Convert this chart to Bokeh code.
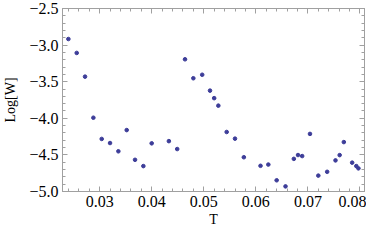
from bokeh.plotting import figure
from bokeh.models import (Range1d, LinearAxis, SingleIntervalTicker,
                          CustomJSTickFormatter, ColumnDataSource)
from bokeh.embed import file_html
from bokeh.resources import INLINE

# Data
T = [0.0240, 0.0256, 0.0272, 0.0288, 0.0304, 0.0320, 0.0336, 0.0352, 0.0368,
     0.0384, 0.0400, 0.0433, 0.0449, 0.0464, 0.0480, 0.0497, 0.0512, 0.0520,
     0.0528, 0.0544, 0.0560, 0.0577, 0.0609, 0.0624, 0.0640, 0.0657, 0.0673,
     0.0681, 0.0689, 0.0704, 0.0720, 0.0737, 0.0753, 0.0761, 0.0769, 0.0785,
     0.0793, 0.0797]
logW = [-2.917, -3.107, -3.431, -3.992, -4.282, -4.338, -4.451, -4.161, -4.567,
        -4.653, -4.342, -4.312, -4.420, -3.194, -3.453, -3.405, -3.622, -3.725,
        -3.827, -4.187, -4.278, -4.532, -4.649, -4.632, -4.847, -4.930, -4.554,
        -4.502, -4.516, -4.213, -4.783, -4.731, -4.575, -4.503, -4.325, -4.606,
        -4.653, -4.684]

x_label = "T"
y_label = "Log[W]"
x_range = (0.02287, 0.08087)
y_range = (-5.0, -2.5)
x_major = 0.01
y_major = 0.5

FONT = "Liberation Serif"
TICK_FS = "16px"
LABEL_FS = "14px"
FRAME = "#a0a0a0"
DOT = "#3d3d99"

src = ColumnDataSource(dict(T=T, logW=logW))

p = figure(width=366, height=229, output_backend="svg", toolbar_location=None,
           x_range=Range1d(*x_range), y_range=Range1d(*y_range),
           x_axis_location=None, y_axis_location=None,
           min_border_left=60, min_border_right=2, min_border_top=8,
           min_border_bottom=30)
p.grid.visible = False
p.outline_line_color = FRAME
p.outline_line_width = 1
p.background_fill_color = "white"
p.border_fill_color = "white"

xfmt = CustomJSTickFormatter(code="return tick.toFixed(2);")
yfmt = CustomJSTickFormatter(code="return tick.toFixed(1).replace('-', '\\u2212');")
blank = CustomJSTickFormatter(code="return '';")


def style(ax, labelled):
    ax.axis_line_color = FRAME
    ax.major_tick_line_color = FRAME
    ax.minor_tick_line_color = FRAME
    ax.major_tick_in = 5
    ax.major_tick_out = 0
    ax.minor_tick_in = 3
    ax.minor_tick_out = 0
    ax.major_label_text_font = FONT
    ax.major_label_text_font_size = TICK_FS
    ax.major_label_text_color = "black"
    ax.axis_label_text_font = FONT
    ax.axis_label_text_font_size = LABEL_FS
    ax.axis_label_text_font_style = "normal"
    ax.axis_label_text_color = "black"
    if not labelled:
        ax.major_label_standoff = 0
        ax.major_label_text_font_size = "0px"


xb = LinearAxis(ticker=SingleIntervalTicker(interval=x_major, num_minor_ticks=5),
                formatter=xfmt, axis_label=x_label)
style(xb, True)
xb.major_label_standoff = 4
xb.axis_label_standoff = 2
p.add_layout(xb, "below")

yl = LinearAxis(ticker=SingleIntervalTicker(interval=y_major, num_minor_ticks=5),
                formatter=yfmt, axis_label=y_label)
style(yl, True)
yl.major_label_standoff = 4
yl.axis_label_standoff = 8
p.add_layout(yl, "left")

xt = LinearAxis(ticker=SingleIntervalTicker(interval=x_major, num_minor_ticks=5),
                formatter=blank)
style(xt, False)
p.add_layout(xt, "above")

yr = LinearAxis(ticker=SingleIntervalTicker(interval=y_major, num_minor_ticks=5),
                formatter=blank)
style(yr, False)
p.add_layout(yr, "right")

p.scatter("T", "logW", source=src, size=3.6, marker="circle",
          fill_color=DOT, line_color=DOT)

open("out.html", "w").write(file_html(p, INLINE))
